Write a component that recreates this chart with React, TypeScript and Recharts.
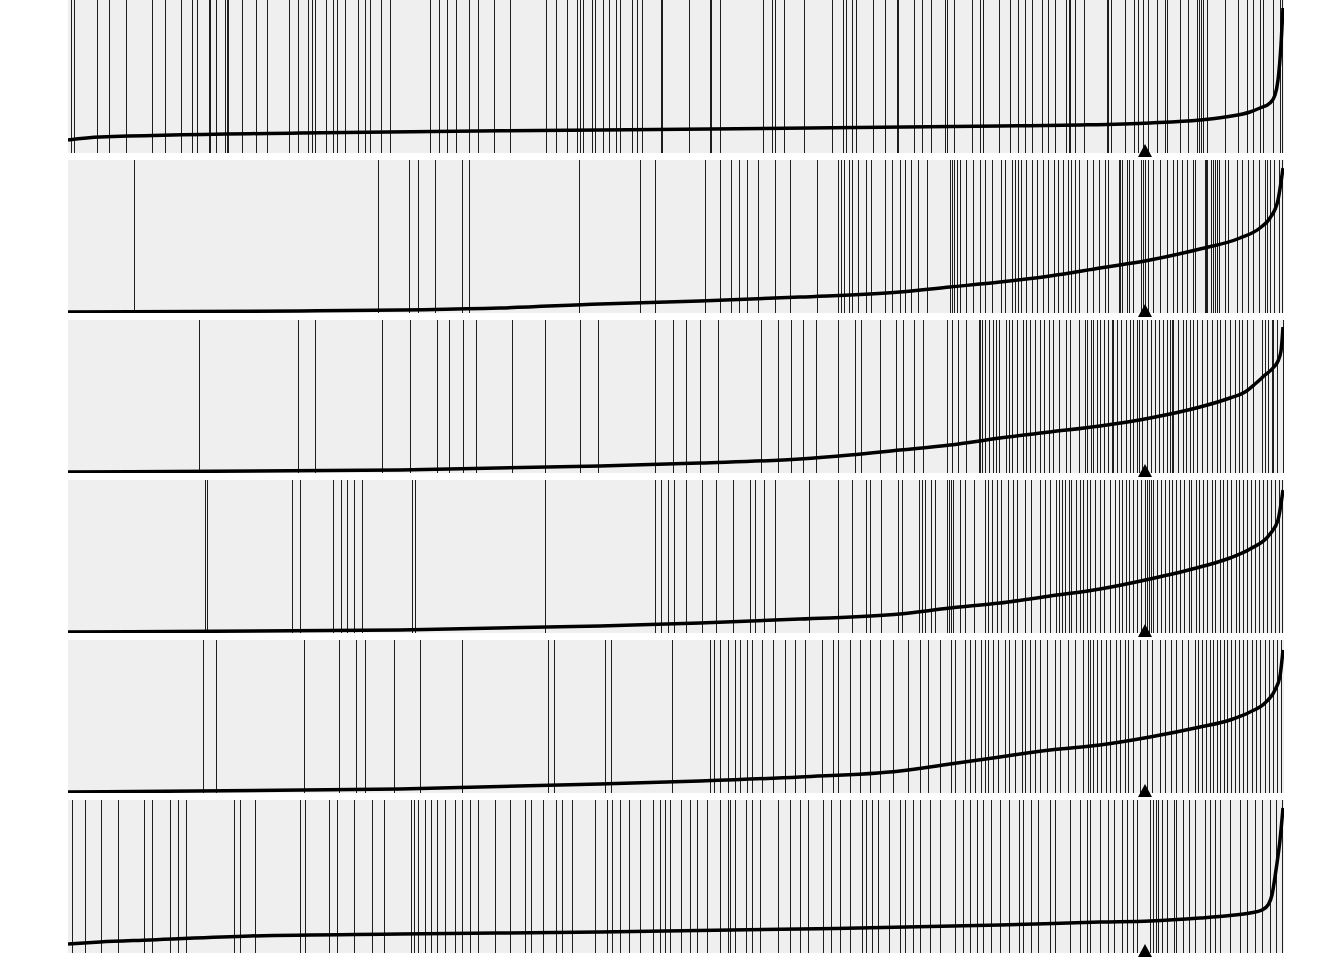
import React from 'react';
import { ComposedChart, Line, XAxis, YAxis, ReferenceLine, ReferenceArea, ReferenceDot } from 'recharts';

// ranked list of 1216 genes, running metric per gene set
const N_GENES = 1216;
const MAX_SCORE = 153;
const MARKER_RANK = 1077;

const hits1 = [3, 6, 29, 41, 58, 84, 97, 113, 124, 129, 141, 142, 148, 157, 159, 160, 174, 188, 199, 221, 230, 240, 244, 247, 258, 265, 269, 277, 290, 297, 302, 313, 322, 362, 371, 379, 388, 401, 410, 426, 442, 478, 488, 499, 509, 512, 515, 524, 527, 535, 541, 548, 552, 564, 569, 574, 593, 594, 621, 642, 643, 652, 695, 704, 707, 716, 736, 764, 775, 778, 784, 788, 805, 817, 829, 830, 846, 854, 863, 877, 879, 886, 904, 912, 915, 931, 942, 950, 957, 964, 974, 980, 987, 998, 1001, 1002, 1007, 1016, 1039, 1040, 1043, 1057, 1066, 1070, 1075, 1080, 1089, 1097, 1099, 1112, 1120, 1129, 1131, 1133, 1135, 1139, 1157, 1170, 1179, 1185, 1192, 1195, 1205, 1212, 1214];
const hits2 = [66, 310, 341, 350, 367, 394, 401, 511, 572, 587, 637, 652, 663, 671, 679, 690, 707, 722, 749, 770, 773, 776, 781, 784, 790, 798, 803, 817, 824, 832, 837, 843, 850, 859, 882, 884, 886, 889, 892, 898, 905, 912, 917, 924, 933, 937, 944, 947, 950, 953, 958, 964, 969, 975, 980, 986, 990, 995, 1000, 1003, 1007, 1011, 1019, 1025, 1031, 1037, 1040, 1051, 1052, 1054, 1059, 1061, 1065, 1073, 1075, 1077, 1080, 1085, 1092, 1099, 1105, 1109, 1114, 1119, 1125, 1127, 1137, 1138, 1139, 1143, 1145, 1147, 1149, 1151, 1157, 1160, 1169, 1174, 1180, 1185, 1191, 1197, 1199, 1202, 1206, 1211, 1214];
const hits3 = [131, 230, 247, 314, 342, 369, 381, 395, 408, 444, 477, 512, 530, 587, 605, 618, 632, 650, 693, 710, 723, 735, 748, 770, 787, 793, 812, 828, 835, 846, 855, 879, 884, 890, 898, 911, 912, 914, 917, 921, 925, 928, 931, 938, 941, 944, 949, 955, 958, 962, 967, 972, 976, 981, 985, 991, 998, 1002, 1011, 1017, 1019, 1023, 1025, 1029, 1032, 1036, 1040, 1044, 1045, 1049, 1053, 1058, 1062, 1065, 1069, 1071, 1074, 1079, 1083, 1087, 1091, 1095, 1099, 1102, 1104, 1105, 1110, 1115, 1118, 1122, 1125, 1129, 1134, 1139, 1144, 1149, 1152, 1157, 1162, 1167, 1171, 1174, 1179, 1185, 1194, 1197, 1200, 1204, 1205, 1209, 1215];
const hits4 = [137, 139, 224, 232, 265, 273, 279, 286, 294, 344, 347, 477, 587, 593, 600, 606, 618, 634, 648, 665, 682, 687, 696, 707, 741, 770, 784, 798, 802, 813, 830, 834, 851, 854, 857, 863, 867, 879, 881, 883, 885, 892, 897, 906, 917, 920, 924, 929, 933, 940, 945, 949, 957, 963, 972, 977, 982, 988, 991, 994, 997, 1001, 1003, 1008, 1012, 1015, 1019, 1022, 1027, 1032, 1036, 1042, 1047, 1051, 1054, 1058, 1061, 1065, 1069, 1073, 1077, 1079, 1081, 1083, 1085, 1089, 1093, 1097, 1101, 1104, 1108, 1112, 1116, 1121, 1123, 1128, 1131, 1135, 1139, 1144, 1147, 1152, 1155, 1159, 1163, 1168, 1171, 1175, 1179, 1183, 1187, 1191, 1195, 1199, 1203, 1207, 1211, 1214];
const hits5 = [135, 148, 236, 271, 288, 297, 326, 352, 394, 480, 486, 537, 543, 604, 642, 646, 652, 660, 667, 672, 679, 684, 694, 705, 717, 727, 737, 754, 765, 770, 782, 792, 802, 812, 825, 840, 852, 860, 872, 883, 887, 897, 902, 907, 913, 917, 920, 925, 930, 937, 941, 947, 954, 957, 962, 967, 972, 979, 987, 992, 1000, 1007, 1015, 1020, 1022, 1025, 1029, 1033, 1038, 1042, 1048, 1052, 1057, 1060, 1065, 1072, 1079, 1084, 1092, 1097, 1103, 1108, 1114, 1120, 1127, 1130, 1134, 1138, 1142, 1145, 1149, 1152, 1156, 1159, 1163, 1167, 1171, 1175, 1179, 1184, 1188, 1192, 1197, 1201, 1205, 1209, 1213];
const hits6 = [4, 17, 33, 50, 76, 84, 102, 110, 118, 166, 172, 187, 232, 237, 261, 269, 286, 304, 316, 343, 346, 350, 357, 363, 369, 377, 387, 394, 402, 410, 427, 442, 457, 463, 475, 488, 494, 504, 527, 539, 544, 552, 561, 572, 585, 592, 597, 602, 613, 622, 629, 639, 652, 660, 662, 667, 678, 684, 692, 710, 722, 732, 740, 755, 763, 772, 782, 794, 798, 804, 810, 821, 832, 837, 845, 852, 862, 872, 887, 895, 902, 909, 915, 923, 932, 941, 951, 955, 963, 970, 982, 987, 1002, 1012, 1019, 1022, 1032, 1040, 1046, 1054, 1059, 1065, 1069, 1082, 1085, 1088, 1090, 1094, 1099, 1106, 1108, 1115, 1121, 1127, 1137, 1142, 1147, 1152, 1162, 1172, 1179, 1187, 1194, 1202, 1208, 1214];

// curve samples: [rank, score]
const curve1 = [[0, 13], [32, 16], [232, 20], [532, 23], [932, 27], [1012, 28], [1082, 30], [1132, 33], [1157, 36], [1182, 41], [1192, 45], [1202, 50], [1207, 58], [1210, 73], [1213, 108], [1215, 145]];
const curve2 = [[0, 1], [232, 2], [432, 5], [532, 9], [632, 12], [732, 16], [832, 21], [882, 26], [932, 31], [982, 37], [1032, 45], [1082, 53], [1132, 64], [1172, 75], [1192, 85], [1202, 95], [1210, 113], [1215, 145]];
const curve3 = [[0, 1], [332, 3], [532, 7], [632, 10], [732, 14], [782, 18], [832, 23], [882, 28], [932, 35], [982, 41], [1032, 47], [1082, 55], [1132, 66], [1162, 75], [1177, 81], [1187, 89], [1197, 98], [1205, 105], [1210, 112], [1213, 122], [1215, 146]];
const curve4 = [[0, 1], [332, 3], [532, 7], [632, 10], [732, 14], [832, 19], [882, 25], [932, 30], [982, 37], [1032, 44], [1082, 54], [1132, 66], [1162, 75], [1182, 84], [1202, 99], [1210, 113], [1215, 143]];
const curve5 = [[0, 1], [332, 4], [532, 9], [632, 12], [732, 16], [832, 22], [882, 29], [932, 36], [982, 43], [1032, 48], [1082, 56], [1132, 66], [1162, 73], [1182, 81], [1197, 90], [1207, 103], [1212, 117], [1215, 143]];
const curve6 = [[0, 9], [32, 11], [82, 13], [182, 17], [332, 19], [532, 21], [732, 24], [932, 28], [1032, 31], [1082, 32], [1132, 35], [1162, 37.5], [1182, 40], [1194, 43], [1200, 48], [1204, 58], [1208, 83], [1212, 113], [1215, 145]];

const panels = [
  { hits: hits1, curve: curve1 },
  { hits: hits2, curve: curve2 },
  { hits: hits3, curve: curve3 },
  { hits: hits4, curve: curve4 },
  { hits: hits5, curve: curve5 },
  { hits: hits6, curve: curve6 },
];

const Marker = (props: any) => {
  const { cx, cy } = props;
  return <polygon points={`${cx},${cy - 9} ${cx - 7},${cy + 4} ${cx + 7},${cy + 4}`} fill="#000" />;
};

const Panel: React.FC<{ hits: number[]; curve: number[][] }> = ({ hits, curve }) => {
  const data = curve.map(([rank, score]) => ({ rank, score }));
  return (
    <ComposedChart width={1344} height={160} data={data} margin={{ top: 0, right: 60, bottom: 7, left: 68 }}>
      <XAxis type="number" dataKey="rank" domain={[0, N_GENES]} allowDataOverflow hide />
      <YAxis type="number" domain={[0, MAX_SCORE]} allowDataOverflow hide />
      <ReferenceArea x1={0} x2={N_GENES} y1={0} y2={MAX_SCORE} fill="#efefef" fillOpacity={1} stroke="none" />
      {hits.map((h, i) => (
        <ReferenceLine key={i} x={h} stroke="#1e1e1e" strokeWidth={1} shapeRendering="crispEdges" />
      ))}
      <Line type="monotone" dataKey="score" stroke="#000" strokeWidth={3.5} dot={false} isAnimationActive={false} />
      <ReferenceDot x={MARKER_RANK} y={0} r={7} shape={Marker} ifOverflow="visible" />
    </ComposedChart>
  );
};

export default function App() {
  return (
    <div style={{ position: 'absolute', top: 0, left: 0, width: 1344, height: 960, background: '#fff' }}>
      {panels.map((p, i) => (
        <Panel key={i} hits={p.hits} curve={p.curve} />
      ))}
    </div>
  );
}
